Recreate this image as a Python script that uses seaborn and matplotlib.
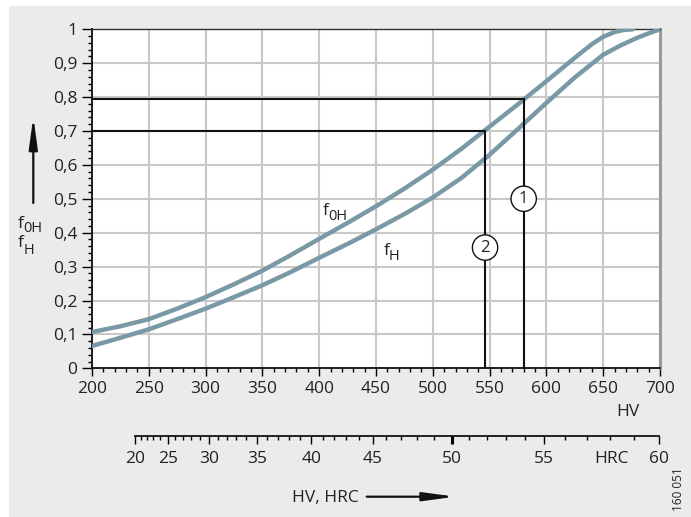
import numpy as np
import pandas as pd
import matplotlib
matplotlib.use("Agg")
import matplotlib.pyplot as plt
import seaborn as sns
from matplotlib.patches import Rectangle, FancyArrowPatch
from matplotlib.ticker import MultipleLocator, FixedLocator

# ---------------- data ----------------
hv_f0h = [200, 225, 250, 275, 300, 325, 350, 375, 400, 425, 450, 475, 500, 525, 550,
          575, 600, 625, 640, 650, 660, 668, 676]
f0h = [0.107, 0.124, 0.145, 0.176, 0.210, 0.248, 0.288, 0.334, 0.382, 0.429, 0.478, 0.530,
       0.586, 0.647, 0.713, 0.779, 0.847, 0.916, 0.956, 0.978, 0.992, 0.998, 1.0]

hv_fh = [200, 225, 250, 275, 300, 325, 350, 375, 400, 425, 450, 475, 500, 525, 550,
         575, 600, 625, 650, 665, 680, 690, 700]
fh = [0.066, 0.090, 0.115, 0.145, 0.176, 0.210, 0.245, 0.284, 0.326, 0.367, 0.410, 0.455,
      0.504, 0.561, 0.630, 0.706, 0.783, 0.858, 0.925, 0.952, 0.975, 0.988, 1.0]

# reading examples (1) and (2)
read_names = ["1", "2"]
read_hv = [580, 546]
read_f = [0.793, 0.70]
read_label_f = [0.506, 0.362]

# HRC scale: HRC value and the equivalent HV
hrc_values = list(range(20, 61))
hrc_hv = [238, 243, 248, 254, 260, 267, 273, 280, 287, 295, 303, 311, 319, 327, 336,
          345, 354, 364, 373, 383, 393, 403, 413, 424, 435, 447, 459, 472, 486, 501,
          517, 532, 548, 564, 581, 598, 616, 636, 656, 677, 699]
hrc_major = [20, 25, 30, 35, 40, 45, 50, 55, 60]

x_ticks = [200, 250, 300, 350, 400, 450, 500, 550, 600, 650, 700]
y_ticks = [0, 0.1, 0.2, 0.3, 0.4, 0.5, 0.6, 0.7, 0.8, 0.9, 1.0]

curve_color = "#7a99a6"
text_color = "#222222"

# ---------------- style ----------------
sns.set_style("ticks")
plt.rcParams['font.family'] = ['Open Sans', 'DejaVu Sans']
plt.rcParams['text.color'] = text_color
plt.rcParams['xtick.color'] = "black"
plt.rcParams['ytick.color'] = "black"
plt.rcParams['xtick.labelcolor'] = text_color
plt.rcParams['ytick.labelcolor'] = text_color

W, H = 691, 517
fig = plt.figure(figsize=(W / 100, H / 100), dpi=100)
fig.patch.set_facecolor("white")
fig.add_artist(Rectangle((9 / W, 0), 1 - 9 / W, 1 - 6 / H, transform=fig.transFigure,
                         facecolor="#ebebeb", edgecolor="none", zorder=-10))

def fx(px):
    return px / W

def fy(py):
    return 1 - py / H

def sub_label(x, y, main, sub, fs=12.5, sfs=10.5, dx=5.6, dy=5):
    fig.text(fx(x), fy(y), main, ha="left", va="baseline", fontsize=fs, zorder=6)
    fig.text(fx(x + dx), fy(y + dy), sub, ha="left", va="baseline", fontsize=sfs, zorder=6)

L, R, T, B = 92, 660, 29.3, 368.3
ax = fig.add_axes([fx(L), fy(B), (R - L) / W, (B - T) / H])
ax.set_facecolor("white")

df = pd.concat([
    pd.DataFrame({"HV": hv_f0h, "f": f0h, "curve": "f0H"}),
    pd.DataFrame({"HV": hv_fh, "f": fh, "curve": "fH"}),
])
sns.lineplot(data=df, x="HV", y="f", hue="curve", palette={"f0H": curve_color, "fH": curve_color},
             estimator=None, sort=False, lw=3.2, legend=False, ax=ax,
             solid_capstyle="round", solid_joinstyle="round", zorder=3)

# reading lines
for name, xv, yv, ly in zip(read_names, read_hv, read_f, read_label_f):
    ax.plot([200, xv, xv], [yv, yv, 0], color="#111111", lw=1.5, zorder=4,
            solid_joinstyle="miter", clip_on=False)
    ax.text(xv, ly, name, ha="center", va="center_baseline", fontsize=12, zorder=5,
            bbox=dict(boxstyle="circle,pad=0.28", fc="white", ec="#111111", lw=1))

ax.set_xlim(200, 700)
ax.set_ylim(0, 1)
ax.xaxis.set_major_locator(FixedLocator(x_ticks))
ax.xaxis.set_minor_locator(MultipleLocator(10))
ax.yaxis.set_major_locator(FixedLocator(y_ticks))
ax.yaxis.set_minor_locator(MultipleLocator(0.02))
ax.set_xticklabels([str(v) for v in x_ticks])
ax.set_yticklabels([("%g" % v).replace(".", ",") for v in y_ticks])
ax.tick_params(axis="x", which="major", length=6, width=1, pad=3, labelsize=12.5)
ax.tick_params(axis="x", which="minor", length=3, width=1)
ax.tick_params(axis="y", which="major", length=7.5, width=1, pad=3, labelsize=12.5)
ax.tick_params(axis="y", which="minor", length=3.2, width=1)
ax.set_xlabel("")
ax.set_ylabel("")
ax.grid(True, which="major", color="#c8c8c8", lw=1.5)
ax.set_axisbelow(True)
for s in ["left", "bottom"]:
    ax.spines[s].set_color("#111111")
    ax.spines[s].set_linewidth(1.3)
ax.spines["top"].set_color("#333333")
ax.spines["top"].set_linewidth(1)
ax.spines["right"].set_color("#999999")
ax.spines["right"].set_linewidth(2.2)

# curve labels
sub_label(322.7, 215, "f", "0H")
sub_label(383.3, 255, "f", "H")

# HRC scale axis
ax2 = fig.add_axes([fx(L), fy(435.7), (R - L) / W, 0.0001])
ax2.set_facecolor("none")
ax2.set_xlim(200, 700)
ax2.set_yticks([])
for s in ["left", "right", "top"]:
    ax2.spines[s].set_visible(False)
ax2.spines["bottom"].set_bounds(hrc_hv[0], hrc_hv[-1])
ax2.spines["bottom"].set_color("#111111")
ax2.spines["bottom"].set_linewidth(1.3)
major_hv = [hrc_hv[hrc_values.index(v)] for v in hrc_major]
ax2.xaxis.set_major_locator(FixedLocator(major_hv))
ax2.xaxis.set_minor_locator(FixedLocator(hrc_hv))
ax2.set_xticklabels([str(v) for v in hrc_major])
ax2.tick_params(axis="x", which="major", length=6, width=1, pad=5, labelsize=12.5)
ax2.tick_params(axis="x", which="minor", length=3, width=1)
ticks2 = ax2.xaxis.get_major_ticks()
ticks2[hrc_major.index(50)].tick1line.set_markeredgewidth(2.2)

# extra texts
fig.text(fx(628), fy(411.7), "HV", ha="center", va="center", fontsize=12.5)
fig.text(fx(611.7), fy(459), "HRC", ha="center", va="center", fontsize=12.5)
fig.text(fx(291.7), fy(498), "HV, HRC", ha="left", va="center", fontsize=12.5)
fig.text(fx(678.5), fy(489), "160 051", ha="center", va="center", fontsize=8.5, rotation=90)

sub_label(18, 228, "f", "0H", dy=4)
sub_label(18, 247, "f", "H", dy=7)

# arrows
arrow_kw = dict(arrowstyle="-|>,head_length=1.9,head_width=0.26", color="#111111",
                lw=1.6, mutation_scale=10, shrinkA=0, shrinkB=0)
fig.add_artist(FancyArrowPatch((fx(33.3), fy(203)), (fx(33.3), fy(116.7)),
                               transform=fig.transFigure, **arrow_kw))
fig.add_artist(FancyArrowPatch((fx(366.7), fy(496.7)), (fx(455), fy(496.7)),
                               transform=fig.transFigure, **arrow_kw))

fig.savefig("out.png", dpi=100)
